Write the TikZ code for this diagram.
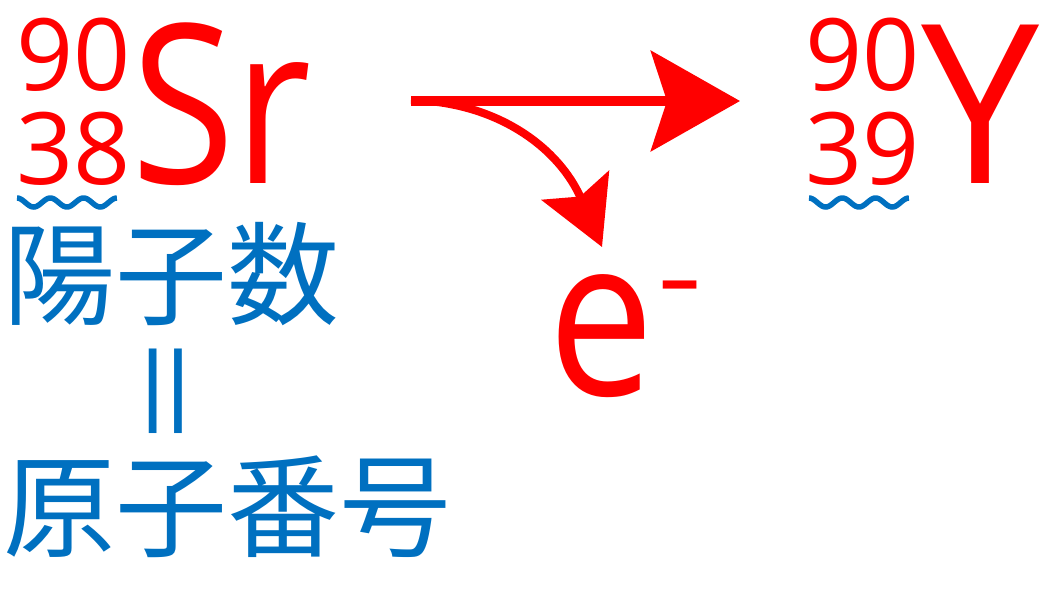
\documentclass[tikz,border=0pt]{standalone}
\usepackage{fontspec}
\setmainfont{Open Sans}
\newfontfamily\elemfont[FakeStretch=0.85]{Open Sans}
\newfontfamily\yfont[FakeStretch=0.95]{Open Sans}
\newfontfamily\cjkfont{Noto Sans CJK JP}
\usetikzlibrary{arrows.meta}
\definecolor{nred}{HTML}{FF0000}
\definecolor{nblue}{HTML}{0070C0}
\tikzset{
  elem/.style={text=nred, inner sep=0pt, font=\elemfont\fontsize{222}{222}\selectfont},
  yelem/.style={text=nred, inner sep=0pt, font=\yfont\fontsize{222}{222}\selectfont},
  nucl/.style={text=nred, inner sep=0pt, font=\fontsize{100}{100}\selectfont},
  jp/.style={text=nblue, inner sep=0pt, font=\cjkfont\fontsize{112}{112}\selectfont},
  wave/.style={draw=nblue, line width=5.5pt},
  decay/.style={draw=nred, line width=10pt, -{Stealth[length=89pt,width=100pt,inset=16pt]}},
  emit/.style={draw=nred, line width=8pt, -{Stealth[length=67pt,width=73pt,inset=12pt]}}
}
\begin{document}
\begin{tikzpicture}[x=1pt,y=-1pt]
\useasboundingbox (0,0) rectangle (1040,589);
% strontium
\node[elem, anchor=base west] (sr) at (131,183) {Sr};
\node[nucl, anchor=base east] (srA) at (131,90) {90};
\node[nucl, anchor=base east] (srZ) at (131,184) {38};
\draw[wave] plot[domain=0:3, samples=90, smooth] ({17+33.3*\x},{202.5-4.5*cos(360*\x)});
% yttrium
\node[yelem, anchor=base west] (y) at (921,183) {Y};
\node[nucl, anchor=base east] (yA) at (920,90) {90};
\node[nucl, anchor=base east] (yZ) at (920,184) {39};
\draw[wave] plot[domain=0:3, samples=90, smooth] ({809+33.3*\x},{202.5-4.5*cos(360*\x)});
% electron
\node[elem, anchor=base west] (e) at (548,395) {e\kern3pt\raisebox{81pt}{\fontsize{100}{100}\selectfont\scalebox{1.65}[1.1]{-}}};
% japanese labels
\node[jp, anchor=west] (proton) at (3,274) {陽子数};
\node[jp, rotate=90] (eq) at (179,391) {\scalebox{1.04}[1]{＝}};
\node[jp, anchor=west] (atomic) at (3,507) {原子番号};
% arrows
\coordinate (start) at (411,101);
\coordinate (end) at (740,101);
\coordinate (etip) at (602,247);
\draw[decay] (start) -- (end);
\draw[emit] ([yshift=1pt]start) .. controls (500,102) and (560,150) .. (etip);
\end{tikzpicture}
\end{document}
